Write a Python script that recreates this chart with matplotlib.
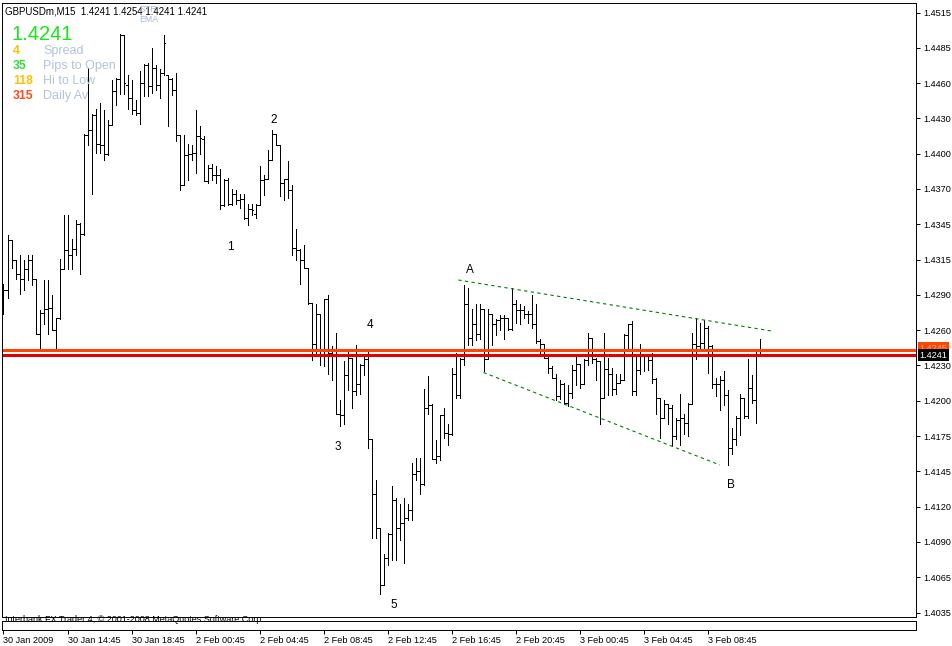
import numpy as np
import matplotlib
matplotlib.use("Agg")
import matplotlib.pyplot as plt
from matplotlib.transforms import blended_transform_factory

# GBPUSDm M15 bars, 15 minute OHLC, oldest first
opens = [1.4285, 1.4293, 1.4333, 1.4317, 1.4306, 1.4302, 1.4310, 1.4317, 1.4302, 1.4258,
         1.4275, 1.4278, 1.4279, 1.4261, 1.4271, 1.4310, 1.4325, 1.4321, 1.4326, 1.4346,
         1.4338, 1.4417, 1.4421, 1.4433, 1.4410, 1.4409, 1.4402, 1.4425, 1.4452, 1.4462,
         1.4497, 1.4457, 1.4447, 1.4437, 1.4435, 1.4459, 1.4473, 1.4456, 1.4471, 1.4457,
         1.4467, 1.4465, 1.4462, 1.4453, 1.4417, 1.4377, 1.4401, 1.4402, 1.4403, 1.4416,
         1.4414, 1.4380, 1.4391, 1.4385, 1.4385, 1.4361, 1.4381, 1.4362, 1.4370, 1.4365,
         1.4366, 1.4351, 1.4358, 1.4354, 1.4361, 1.4381, 1.4382, 1.4397, 1.4418, 1.4409,
         1.4379, 1.4382, 1.4373, 1.4327, 1.4325, 1.4317, 1.4311, 1.4283, 1.4250, 1.4274,
         1.4246, 1.4286, 1.4243, 1.4245, 1.4194, 1.4193, 1.4225, 1.4239, 1.4212, 1.4218,
         1.4233, 1.4238, 1.4174, 1.4130, 1.4103, 1.4057, 1.4079, 1.4098, 1.4125, 1.4103,
         1.4107, 1.4111, 1.4117, 1.4146, 1.4148, 1.4138, 1.4199, 1.4201, 1.4158, 1.4160,
         1.4193, 1.4179, 1.4178, 1.4226, 1.4209, 1.4238, 1.4282, 1.4255, 1.4266, 1.4258,
         1.4278, 1.4238, 1.4274, 1.4266, 1.4269, 1.4271, 1.4271, 1.4262, 1.4282, 1.4277,
         1.4277, 1.4274, 1.4274, 1.4266, 1.4252, 1.4250, 1.4239, 1.4231, 1.4223, 1.4208,
         1.4218, 1.4203, 1.4211, 1.4229, 1.4234, 1.4218, 1.4237, 1.4255, 1.4238, 1.4236,
         1.4207, 1.4230, 1.4226, 1.4214, 1.4219, 1.4221, 1.4257, 1.4266, 1.4212, 1.4229,
         1.4240, 1.4241, 1.4237, 1.4222, 1.4207, 1.4191, 1.4202, 1.4199, 1.4176, 1.4189,
         1.4191, 1.4187, 1.4202, 1.4250, 1.4248, 1.4251, 1.4263, 1.4248, 1.4218, 1.4218,
         1.4221, 1.4209, 1.4167, 1.4174, 1.4191, 1.4207, 1.4192, 1.4215, 1.4205, 1.4241]
highs = [1.4298, 1.4337, 1.4333, 1.4317, 1.4321, 1.4317, 1.4321, 1.4321, 1.4302, 1.4277,
         1.4301, 1.4301, 1.4289, 1.4271, 1.4318, 1.4353, 1.4353, 1.4334, 1.4349, 1.4347,
         1.4418, 1.4471, 1.4434, 1.4438, 1.4443, 1.4437, 1.4429, 1.4461, 1.4463, 1.4498,
         1.4497, 1.4465, 1.4461, 1.4445, 1.4468, 1.4474, 1.4475, 1.4487, 1.4473, 1.4470,
         1.4497, 1.4465, 1.4463, 1.4467, 1.4417, 1.4417, 1.4410, 1.4409, 1.4437, 1.4424,
         1.4416, 1.4393, 1.4394, 1.4392, 1.4390, 1.4382, 1.4383, 1.4374, 1.4373, 1.4370,
         1.4370, 1.4362, 1.4362, 1.4362, 1.4392, 1.4385, 1.4405, 1.4421, 1.4418, 1.4409,
         1.4382, 1.4396, 1.4377, 1.4342, 1.4326, 1.4329, 1.4311, 1.4283, 1.4282, 1.4274,
         1.4286, 1.4289, 1.4248, 1.4259, 1.4205, 1.4236, 1.4246, 1.4239, 1.4249, 1.4234,
         1.4242, 1.4245, 1.4174, 1.4141, 1.4103, 1.4082, 1.4099, 1.4136, 1.4127, 1.4122,
         1.4127, 1.4122, 1.4155, 1.4159, 1.4159, 1.4214, 1.4224, 1.4202, 1.4173, 1.4193,
         1.4199, 1.4186, 1.4231, 1.4243, 1.4239, 1.4297, 1.4295, 1.4278, 1.4282, 1.4282,
         1.4278, 1.4278, 1.4274, 1.4270, 1.4273, 1.4273, 1.4271, 1.4295, 1.4285, 1.4282,
         1.4280, 1.4276, 1.4289, 1.4282, 1.4254, 1.4250, 1.4240, 1.4232, 1.4226, 1.4221,
         1.4219, 1.4217, 1.4233, 1.4240, 1.4234, 1.4238, 1.4259, 1.4255, 1.4239, 1.4236,
         1.4259, 1.4239, 1.4231, 1.4226, 1.4226, 1.4258, 1.4266, 1.4268, 1.4242, 1.4250,
         1.4242, 1.4242, 1.4243, 1.4223, 1.4207, 1.4205, 1.4202, 1.4201, 1.4191, 1.4210,
         1.4194, 1.4203, 1.4259, 1.4271, 1.4267, 1.4269, 1.4264, 1.4249, 1.4223, 1.4224,
         1.4228, 1.4213, 1.4183, 1.4192, 1.4210, 1.4207, 1.4238, 1.4225, 1.4245, 1.4254]
lows = [1.4274, 1.4287, 1.4311, 1.4302, 1.4290, 1.4293, 1.4301, 1.4297, 1.4258, 1.4245,
        1.4266, 1.4258, 1.4261, 1.4247, 1.4270, 1.4310, 1.4310, 1.4310, 1.4321, 1.4306,
        1.4337, 1.4409, 1.4370, 1.4403, 1.4403, 1.4397, 1.4401, 1.4425, 1.4441, 1.4450,
        1.4450, 1.4438, 1.4434, 1.4433, 1.4426, 1.4448, 1.4448, 1.4451, 1.4453, 1.4447,
        1.4465, 1.4424, 1.4449, 1.4412, 1.4373, 1.4377, 1.4381, 1.4397, 1.4387, 1.4402,
        1.4380, 1.4379, 1.4381, 1.4379, 1.4358, 1.4360, 1.4361, 1.4361, 1.4362, 1.4359,
        1.4350, 1.4345, 1.4353, 1.4351, 1.4361, 1.4369, 1.4382, 1.4397, 1.4409, 1.4368,
        1.4365, 1.4367, 1.4321, 1.4317, 1.4298, 1.4311, 1.4282, 1.4237, 1.4243, 1.4233,
        1.4232, 1.4226, 1.4221, 1.4194, 1.4184, 1.4186, 1.4213, 1.4199, 1.4209, 1.4210,
        1.4225, 1.4167, 1.4095, 1.4095, 1.4050, 1.4057, 1.4073, 1.4077, 1.4077, 1.4093,
        1.4075, 1.4109, 1.4109, 1.4141, 1.4130, 1.4137, 1.4194, 1.4158, 1.4155, 1.4157,
        1.4175, 1.4169, 1.4177, 1.4207, 1.4207, 1.4233, 1.4249, 1.4249, 1.4253, 1.4254,
        1.4228, 1.4238, 1.4249, 1.4257, 1.4261, 1.4254, 1.4261, 1.4261, 1.4267, 1.4266,
        1.4271, 1.4267, 1.4263, 1.4251, 1.4243, 1.4239, 1.4227, 1.4223, 1.4205, 1.4206,
        1.4202, 1.4200, 1.4207, 1.4217, 1.4215, 1.4218, 1.4233, 1.4235, 1.4221, 1.4186,
        1.4207, 1.4209, 1.4209, 1.4210, 1.4219, 1.4221, 1.4246, 1.4209, 1.4209, 1.4226,
        1.4228, 1.4229, 1.4219, 1.4194, 1.4175, 1.4191, 1.4186, 1.4168, 1.4174, 1.4169,
        1.4178, 1.4176, 1.4202, 1.4238, 1.4247, 1.4246, 1.4227, 1.4215, 1.4208, 1.4197,
        1.4201, 1.4153, 1.4162, 1.4169, 1.4177, 1.4191, 1.4191, 1.4203, 1.4187, 1.4241]
closes = [1.4293, 1.4333, 1.4317, 1.4306, 1.4302, 1.4310, 1.4317, 1.4302, 1.4258, 1.4275,
          1.4278, 1.4279, 1.4261, 1.4271, 1.4310, 1.4325, 1.4321, 1.4326, 1.4346, 1.4338,
          1.4417, 1.4421, 1.4433, 1.4410, 1.4409, 1.4402, 1.4425, 1.4452, 1.4462, 1.4497,
          1.4459, 1.4447, 1.4437, 1.4435, 1.4459, 1.4473, 1.4456, 1.4471, 1.4457, 1.4467,
          1.4491, 1.4462, 1.4453, 1.4417, 1.4377, 1.4401, 1.4402, 1.4403, 1.4416, 1.4415,
          1.4380, 1.4391, 1.4385, 1.4385, 1.4361, 1.4381, 1.4362, 1.4370, 1.4365, 1.4366,
          1.4351, 1.4358, 1.4357, 1.4361, 1.4381, 1.4382, 1.4397, 1.4418, 1.4409, 1.4379,
          1.4382, 1.4373, 1.4327, 1.4325, 1.4317, 1.4311, 1.4283, 1.4250, 1.4274, 1.4246,
          1.4286, 1.4243, 1.4245, 1.4194, 1.4193, 1.4225, 1.4239, 1.4212, 1.4218, 1.4233,
          1.4238, 1.4174, 1.4130, 1.4103, 1.4057, 1.4079, 1.4098, 1.4125, 1.4103, 1.4107,
          1.4111, 1.4117, 1.4146, 1.4148, 1.4138, 1.4199, 1.4201, 1.4158, 1.4160, 1.4193,
          1.4179, 1.4178, 1.4226, 1.4209, 1.4238, 1.4282, 1.4255, 1.4266, 1.4258, 1.4278,
          1.4238, 1.4274, 1.4266, 1.4269, 1.4271, 1.4271, 1.4262, 1.4282, 1.4277, 1.4277,
          1.4274, 1.4274, 1.4266, 1.4252, 1.4250, 1.4239, 1.4231, 1.4223, 1.4208, 1.4218,
          1.4203, 1.4211, 1.4229, 1.4234, 1.4218, 1.4237, 1.4255, 1.4238, 1.4236, 1.4207,
          1.4230, 1.4226, 1.4214, 1.4219, 1.4221, 1.4257, 1.4266, 1.4212, 1.4229, 1.4240,
          1.4241, 1.4237, 1.4222, 1.4207, 1.4191, 1.4202, 1.4199, 1.4176, 1.4189, 1.4191,
          1.4187, 1.4202, 1.4250, 1.4248, 1.4251, 1.4263, 1.4248, 1.4218, 1.4218, 1.4221,
          1.4209, 1.4167, 1.4174, 1.4191, 1.4207, 1.4192, 1.4215, 1.4205, 1.4241, 1.4241]

bid = 1.4241
ask = 1.4245

time_labels = ["30 Jan 2009", "30 Jan 14:45", "30 Jan 18:45", "2 Feb 00:45", "2 Feb 04:45",
               "2 Feb 08:45", "2 Feb 12:45", "2 Feb 16:45", "2 Feb 20:45", "3 Feb 00:45",
               "3 Feb 04:45", "3 Feb 08:45"]
bars_per_label = 16

price_labels = ["1.4515", "1.4485", "1.4460", "1.4430", "1.4400", "1.4370", "1.4345", "1.4315",
                "1.4290", "1.4260", "1.4230", "1.4200", "1.4175", "1.4145", "1.4120", "1.4090",
                "1.4065", "1.4035"]
price_top, price_bottom = 1.4515, 1.4035

# hand drawn objects on the chart
wave_labels = ["1", "2", "3", "4", "5", "A", "B"]
wave_x = [56.6, 67.6, 83.6, 91.6, 97.6, 116.6, 181.9]
wave_y = [1.4327, 1.4429, 1.4167, 1.4265, 1.4041, 1.4309, 1.4137]
upper_x, upper_y = [113.7, 192.4], [1.4301, 1.4260]
lower_x, lower_y = [120.0, 179.1], [1.4227, 1.4153]

info_values = ["4", "35", "118", "315"]
info_names = ["Spread", "Pips to Open", "Hi to Low", "Daily Av"]
info_colors = ["#F5C400", "#33DD33", "#FFC000", "#FF4A1A"]

W, H = 953, 646
fig = plt.figure(figsize=(W / 100, H / 100), dpi=100)
fig.patch.set_facecolor("white")

# main chart window (pixel frame 2.5..916 x 2.5..617)
ax = fig.add_axes([2.5 / W, (H - 617) / H, 913.5 / W, 614.5 / H])
ax.set_facecolor("white")
n = len(opens)
x = np.arange(n)

bar_lw = 0.7
ax.vlines(x, lows, highs, color="black", lw=bar_lw, antialiased=False)
ax.hlines(opens, x - 0.28, x, color="black", lw=bar_lw, antialiased=False)
ax.hlines(closes, x, x + 0.28, color="black", lw=bar_lw, antialiased=False)

# bid / ask lines
ax.axhline(ask, color="#FF4500", lw=0.85, antialiased=False)
ax.axhline(bid, color="#E00000", lw=0.85, antialiased=False)

ax.plot(upper_x, upper_y, color="#008000", lw=0.8, dashes=(3, 3))
ax.plot(lower_x, lower_y, color="#008000", lw=0.8, dashes=(3, 3))

for t, wx, wy in zip(wave_labels, wave_x, wave_y):
    ax.text(wx, wy, t, fontsize=8.5, family="Liberation Sans", ha="center", va="center")

px_per_price = 600 / (price_top - price_bottom)
# half pixel shift puts price levels on pixel centres so 1px lines stay crisp
shift = 0.5 / px_per_price
ax.set_xlim(-0.25, (916 - 3.5) / 4)
ax.set_ylim(price_top - (617 - 12) / px_per_price + shift, price_top + 9.5 / px_per_price + shift)

ax.yaxis.tick_right()
ax.set_yticks(np.linspace(price_top, price_bottom, len(price_labels)))
ax.set_yticklabels(price_labels)
ax.tick_params(axis="y", direction="out", length=3, width=0.7, pad=2, labelsize=6.6,
               colors="black")
for lab in ax.get_yticklabels():
    lab.set_family("Liberation Sans")
ax.set_xticks([])
for sp in ax.spines.values():
    sp.set_color("black")
    sp.set_linewidth(0.7)

# bid / ask price boxes on the scale
tr = blended_transform_factory(ax.transAxes, ax.transData)
ax.text(1.004, ask + 1.5 / px_per_price, "1.4245", transform=tr, fontsize=6.6,
        family="Liberation Sans", color="#FFB090", va="center", ha="left",
        bbox=dict(boxstyle="square,pad=0.2", fc="#FF4500", ec="none"), clip_on=False)
ax.text(1.004, bid, "1.4241", transform=tr, fontsize=6.6, family="Liberation Sans",
        color="white", va="center", ha="left",
        bbox=dict(boxstyle="square,pad=0.2", fc="black", ec="none"), clip_on=False)

# header and info block
fig.text(5 / W, 1 - 11 / H, "GBPUSDm,M15  1.4241 1.4254 1.4241 1.4241", fontsize=7,
         family="Liberation Sans", va="center", ha="left")
fig.text(140 / W, 1 - 10 / H, "STR", fontsize=6.3, family="Liberation Sans",
         color="#A8BCD8", va="center", ha="left")
fig.text(139 / W, 1 - 19 / H, "EMA", fontsize=6.3, family="Liberation Sans",
         color="#A8BCD8", va="center", ha="left")
fig.text(12 / W, 1 - 35 / H, "1.4241", fontsize=14.5, family="Liberation Sans",
         color="#19E619", va="center", ha="left")
for k, (v, name, c) in enumerate(zip(info_values, info_names, info_colors)):
    yy = 1 - (51 + 15 * k) / H
    fig.text(13 / W, yy, v, fontsize=8.8, family="Liberation Sans", weight="bold",
             color=c, va="center", ha="left")
    fig.text(43 / W, yy, name, fontsize=9, family="Liberation Sans", color="#B0C4DE",
             va="center", ha="left")

# indicator sub window with the time scale
ax2 = fig.add_axes([2.5 / W, (H - 630) / H, 913.5 / W, 9 / H])
ax2.set_xlim(ax.get_xlim())
ax2.set_yticks([])
ax2.set_xticks(np.arange(len(time_labels)) * bars_per_label)
ax2.set_xticklabels(time_labels)
ax2.tick_params(axis="x", direction="out", length=3, width=0.7, pad=1.5, labelsize=6.6)
for lab in ax2.get_xticklabels():
    lab.set_family("Liberation Sans")
    lab.set_horizontalalignment("left")
for sp in ax2.spines.values():
    sp.set_color("black")
    sp.set_linewidth(0.7)

fig.text(5 / W, 1 - 620 / H, "Interbank FX Trader 4, \u00a9 2001-2008 MetaQuotes Software Corp.",
         fontsize=6.5, family="Liberation Sans", va="center", ha="left")

fig.savefig("out.png", dpi=100)
